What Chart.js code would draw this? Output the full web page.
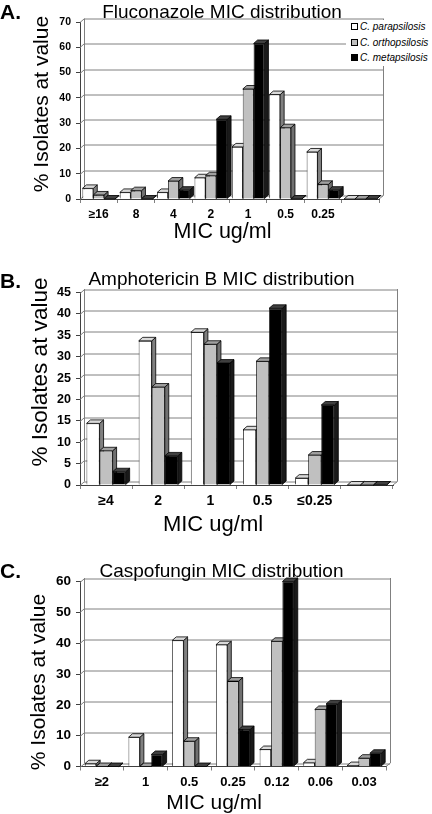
<!DOCTYPE html>
<html>
<head>
<meta charset="utf-8">
<script src="https://cdn.jsdelivr.net/npm/chart.js@4.4.1/dist/chart.umd.min.js"></script>
<style>
  body { margin: 0; background: #fff; }
  #page { position: relative; width: 432px; height: 814px; overflow: hidden; font-family: "Liberation Sans", Arial, sans-serif; }
  canvas { position: absolute; left: 0; }
  .txt { position: absolute; transform: translate(-50%, -50%); line-height: 1; white-space: nowrap; color: #000; }
  .rot { transform: translate(-50%, -50%) rotate(-90deg); }
  .letter { position: absolute; left: 0; font-weight: bold; line-height: 1; transform: translateY(-50%); }
  #legend { position: absolute; left: 346px; top: 20px; width: 86px; height: 46px; background: #fff; font-style: italic; font-size: 10px; }
  #legend div { position: absolute; left: 5px; white-space: nowrap; line-height: 1; transform: translateY(-50%); }
  #legend span { display: inline-block; width: 5px; height: 5px; border: 1px solid #000; margin-right: 2px; vertical-align: 0px; }
</style>
</head>
<body>
<div id="page">
  <canvas id="chartA" width="432" height="245" style="top:0px"></canvas>
  <canvas id="chartB" width="432" height="280" style="top:250px"></canvas>
  <canvas id="chartC" width="432" height="279" style="top:535px"></canvas>
</div>
<script>
// series
const seriesNames = ['C. parapsilosis', 'C. orthopsilosis', 'C. metapsilosis'];
const frontColors = ['#ffffff', '#c0c0c0', '#000000'];
const topColors = ['#d9d9d9', '#a0a0a0', '#404040'];
const sideColors = ['#808080', '#707070', '#1a1a1a'];

// A. Fluconazole
const flucLabels = ['≥16', '8', '4', '2', '1', '0.5', '0.25', ''];
const flucPara = [4.2, 2.6, 2.6, 8.4, 20.6, 41.3, 18.6, 0];
const flucOrtho = [1.6, 3.3, 7.1, 9.2, 43.5, 28.2, 5.8, 0];
const flucMeta = [0, 0, 3.5, 31.5, 61.5, 0, 3.5, 0];

// B. Amphotericin B
const amphoLabels = ['≥4', '2', '1', '0.5', '≤0.25', ''];
const amphoPara = [14.4, 33.7, 35.7, 12.9, 1.6, 0];
const amphoOrtho = [8.0, 22.9, 32.9, 28.9, 7.0, 0];
const amphoMeta = [3.1, 6.8, 28.5, 41.3, 18.7, 0];

// C. Caspofungin
const caspoLabels = ['≥2', '1', '0.5', '0.25', '0.12', '0.06', '0.03'];
const caspoPara = [0.9, 9.5, 40.9, 39.5, 5.5, 1.2, 0.3];
const caspoOrtho = [0, 0, 8.2, 27.7, 40.6, 18.5, 2.7];
const caspoMeta = [0, 3.9, 0, 12, 60, 20.3, 4.3];

const DX = 4, DY = 3.5;

// back wall, floor and 3D faces of the columns
const depthPlugin = {
  id: 'depth',
  beforeDatasetsDraw(chart) {
    const ctx = chart.ctx;
    const a = chart.chartArea;
    const ys = chart.scales.y;
    ctx.save();
    ctx.lineWidth = 1;
    ctx.strokeStyle = '#808080';
    ys.ticks.forEach(t => {
      const y = Math.round(ys.getPixelForValue(t.value)) + 0.5;
      ctx.beginPath();
      ctx.moveTo(a.left, y);
      ctx.lineTo(a.left + DX, y - DY);
      ctx.lineTo(a.right + DX, y - DY);
      ctx.stroke();
    });
    ctx.beginPath();
    ctx.moveTo(a.left + DX + 0.5, a.top - DY);
    ctx.lineTo(a.left + DX + 0.5, a.bottom - DY);
    ctx.moveTo(a.right + DX + 0.5, a.top - DY);
    ctx.lineTo(a.right + DX + 0.5, a.bottom - DY);
    ctx.lineTo(a.right, a.bottom);
    ctx.stroke();

    ctx.strokeStyle = '#000';
    ctx.lineWidth = 0.8;
    const n = chart.data.labels.length;
    for (let i = 0; i < n; i++) {
      chart.data.datasets.forEach((ds, d) => {
        const el = chart.getDatasetMeta(d).data[i];
        const x0 = el.x - el.width / 2, x1 = el.x + el.width / 2;
        const y = el.y, b = el.base;
        ctx.fillStyle = sideColors[d];
        ctx.beginPath();
        ctx.moveTo(x1, y); ctx.lineTo(x1 + DX, y - DY); ctx.lineTo(x1 + DX, b - DY); ctx.lineTo(x1, b);
        ctx.closePath(); ctx.fill(); ctx.stroke();
        ctx.fillStyle = topColors[d];
        ctx.beginPath();
        ctx.moveTo(x0, y); ctx.lineTo(x1, y); ctx.lineTo(x1 + DX, y - DY); ctx.lineTo(x0 + DX, y - DY);
        ctx.closePath(); ctx.fill(); ctx.stroke();
      });
    }
    ctx.restore();
  }
};

function makeChart(id, labels, values, p) {
  new Chart(document.getElementById(id), {
    type: 'bar',
    data: {
      labels: labels,
      datasets: values.map((v, d) => ({
        label: seriesNames[d],
        data: v,
        backgroundColor: frontColors[d],
        borderColor: '#000',
        borderWidth: 0.8,
        categoryPercentage: p.cat,
        barPercentage: 1
      }))
    },
    options: {
      responsive: false,
      animation: false,
      devicePixelRatio: 1,
      layout: { padding: { left: 0, top: p.top, right: p.right, bottom: 0 } },
      plugins: { legend: { display: false }, tooltip: { enabled: false } },
      scales: {
        x: {
          afterFit: s => { s.height = p.xh; },
          grid: { drawOnChartArea: false, tickLength: 4, color: '#808080' },
          border: { display: true, color: '#404040' },
          ticks: { color: '#000', padding: 4, font: { family: 'Liberation Sans, Arial', weight: 'bold', size: p.xfont } }
        },
        y: {
          min: 0, max: p.max,
          afterFit: s => { s.width = 80; },
          grid: { drawOnChartArea: false, tickLength: 4, color: '#404040' },
          border: { display: true, color: '#404040' },
          ticks: { stepSize: p.step, color: '#000', padding: 5, font: { family: 'Liberation Sans, Arial', weight: 'bold', size: p.yfont } }
        }
      }
    },
    plugins: [depthPlugin]
  });
}

makeChart('chartA', flucLabels, [flucPara, flucOrtho, flucMeta],
  { top: 22, right: 53, xh: 46, max: 70, step: 10, cat: 0.87, xfont: 12, yfont: 10.5 });
makeChart('chartB', amphoLabels, [amphoPara, amphoOrtho, amphoMeta],
  { top: 42.5, right: 39, xh: 45, max: 45, step: 5, cat: 0.75, xfont: 14, yfont: 12.5 });
makeChart('chartC', caspoLabels, [caspoPara, caspoOrtho, caspoMeta],
  { top: 46.5, right: 46, xh: 47.5, max: 60, step: 10, cat: 0.78, xfont: 13, yfont: 13.5 });

// text around the plots
const page = document.getElementById('page');
function addText(cls, text, x, y, size, extra) {
  const el = document.createElement('div');
  el.className = cls;
  el.textContent = text;
  el.style.left = x + 'px';
  el.style.top = y + 'px';
  el.style.fontSize = size + 'px';
  if (extra) el.style.cssText += extra;
  page.appendChild(el);
}
addText('letter', 'A.', 0, 10.8, 21);
addText('letter', 'B.', 0, 279.5, 21);
addText('letter', 'C.', 0, 569.5, 21);
addText('txt', 'Fluconazole MIC distribution', 222, 10.5, 19);
addText('txt', 'Amphotericin B MIC distribution', 221.5, 278, 19);
addText('txt', 'Caspofungin MIC distribution', 221.5, 570, 19);
addText('txt', 'MIC ug/ml', 222.5, 231.5, 21.5);
addText('txt', 'MIC ug/ml', 213, 523.5, 22);
addText('txt', 'MIC ug/ml', 214, 800.5, 21);
addText('txt rot', '% Isolates at value', 40, 103.5, 21);
addText('txt rot', '% Isolates at value', 40, 372, 22.5);
addText('txt rot', '% Isolates at value', 37, 681.5, 21);

const legend = document.createElement('div');
legend.id = 'legend';
[7, 22.5, 38].forEach((y, d) => {
  const row = document.createElement('div');
  row.style.top = y + 'px';
  const sw = document.createElement('span');
  sw.style.background = frontColors[d];
  row.appendChild(sw);
  row.appendChild(document.createTextNode(seriesNames[d]));
  legend.appendChild(row);
});
page.appendChild(legend);
</script>
</body>
</html>
